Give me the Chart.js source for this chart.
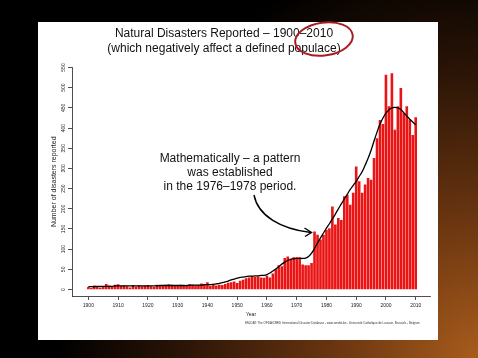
<!DOCTYPE html>
<html><head><meta charset="utf-8">
<script src="https://cdn.jsdelivr.net/npm/chart.js@4.4.1/dist/chart.umd.min.js"></script>
<style>
html,body{margin:0;padding:0;width:478px;height:358px;overflow:hidden;background:#000;}
#bg{position:absolute;left:0;top:0;width:478px;height:358px;
 background:radial-gradient(ellipse 100% 130% at 100% 100%, #a85c1c 0%, #6a3510 30%, #2a1406 62%, #000 88%);}
#panel{position:absolute;left:38px;top:22px;width:400px;height:318px;background:#fff;}
#c{position:absolute;left:0;top:0;}
.t{position:absolute;font-family:'Liberation Sans',Arial,sans-serif;color:#111;white-space:nowrap;text-align:center;}
#title{left:104px;top:26px;width:240px;font-size:12px;line-height:15px;}
#note{left:140px;top:151px;width:180px;font-size:12px;line-height:14px;}
#foot{left:245px;top:321px;font-size:3px;color:#333;text-align:left;}
svg{position:absolute;left:0;top:0;}
</style></head>
<body>
<div id="bg"></div>
<div id="panel"></div>
<canvas id="c" width="478" height="358"></canvas>
<div class="t" id="title">Natural Disasters Reported – 1900–2010<br>(which negatively affect a defined populace)</div>
<div class="t" id="note">Mathematically – a pattern<br>was established<br>in the 1976–1978 period.</div>
<div class="t" id="foot">EM-DAT: The OFDA/CRED International Disaster Database - www.emdat.be - Université Catholique de Louvain, Brussels - Belgium</div>
<svg width="478" height="358">
 <ellipse cx="324" cy="39" rx="29" ry="16.5" transform="rotate(-8 324 39)" fill="none" stroke="#a81c22" stroke-width="2"/>
 <path d="M254,195 C258,216 281,229 311,232.5" fill="none" stroke="#000" stroke-width="1.4"/>
 <path d="M304.5,228 L311.5,232.5 L305,236.5" fill="none" stroke="#000" stroke-width="1.4"/>
</svg>
<script>
const years = Array.from({length:111}, (_, i) => 1900 + i);
const disasters = [
 6,4,10,9,5,8,14,10,7,12,
 13,9,10,8,5,11,7,10,8,9,
 11,8,6,12,9,10,12,13,12,9,
 11,12,10,9,13,12,10,11,15,12,
 18,9,12,10,12,11,14,17,18,20,
 16,22,24,28,30,33,31,32,30,29,
 34,30,40,50,60,58,78,82,76,80,
 80,80,62,60,60,66,144,136,124,136,
 148,152,206,161,177,172,231,235,210,240,
 305,268,240,260,276,272,326,375,420,410,
 532,454,536,396,454,499,437,454,421,383,427
];
const trend = [
 7,7,7,8,8,8,8,8,8,9,
 9,9,9,9,9,9,9,9,9,9,
 9,9,9,9,10,10,10,10,10,10,
 10,10,10,10,11,11,11,11,11,12,
 12,12,13,14,15,17,19,21,24,26,
 28,30,31,32,33,33,34,34,35,35,
 37,41,46,51,57,63,68,72,75,76,
 77,77,77,78,82,90,102,115,128,140,
 152,163,175,187,200,212,224,236,248,258,
 268,280,292,308,325,345,368,390,410,425,
 437,445,450,451,450,446,438,430,422,415,408
];
const xTicks = [1900,1910,1920,1930,1940,1950,1960,1970,1980,1990,2000,2010];
const yTicks = [0,50,100,150,200,250,300,350,400,450,500,550];
const fam = "'Liberation Sans', Arial, sans-serif";

new Chart(document.getElementById('c'), {
 type: 'bar',
 data: {
  datasets: [
   {type:'line', data: years.map((y,i)=>({x:y,y:trend[i]})), borderColor:'#000', borderWidth:1.3,
    pointRadius:0, tension:0.4, fill:false, order:0},
   {type:'bar', data: years.map((y,i)=>({x:y,y:disasters[i]})), backgroundColor:'#ea1414',
    borderWidth:0, barPercentage:0.88, categoryPercentage:1, order:1}
  ]
 },
 options: {
  responsive:false, devicePixelRatio:1, animation:false,
  layout:{padding:{left:40, top:67.5, right:48, bottom:0}},
  plugins:{legend:{display:false}, tooltip:{enabled:false}},
  scales:{
   x:{type:'linear', min:1894.5, max:2014.8, offset:false,
    afterBuildTicks:s=>{s.ticks = xTicks.map(v=>({value:v}));},
    afterFit:s=>{s.height = 62;},
    grid:{drawOnChartArea:false, drawTicks:true, tickLength:4, color:'#222', lineWidth:0.8, offset:false},
    border:{display:true, color:'#222', width:0.8},
    ticks:{font:{size:5, family:fam}, color:'#222', padding:3, maxRotation:0, autoSkip:false, callback:v=>String(v)},
    title:{display:true, text:'Year', font:{size:5, family:fam}, color:'#222', padding:{top:0,bottom:40}}
   },
   y:{min:-16, max:550,
    afterBuildTicks:s=>{s.ticks = yTicks.map(v=>({value:v}));},
    afterFit:s=>{s.width = 32;},
    grid:{drawOnChartArea:false, drawTicks:true, tickLength:4, color:'#222', lineWidth:0.8},
    border:{display:true, color:'#222', width:0.8},
    ticks:{font:{size:5, family:fam}, color:'#222', minRotation:90, maxRotation:90, crossAlign:'center', padding:0, autoSkip:false, callback:v=>String(v)},
    title:{display:true, text:'Number of disasters reported', font:{size:7, family:fam}, color:'#222', padding:{top:10,bottom:0}}
   }
  }
 }
});
</script>
</body></html>
